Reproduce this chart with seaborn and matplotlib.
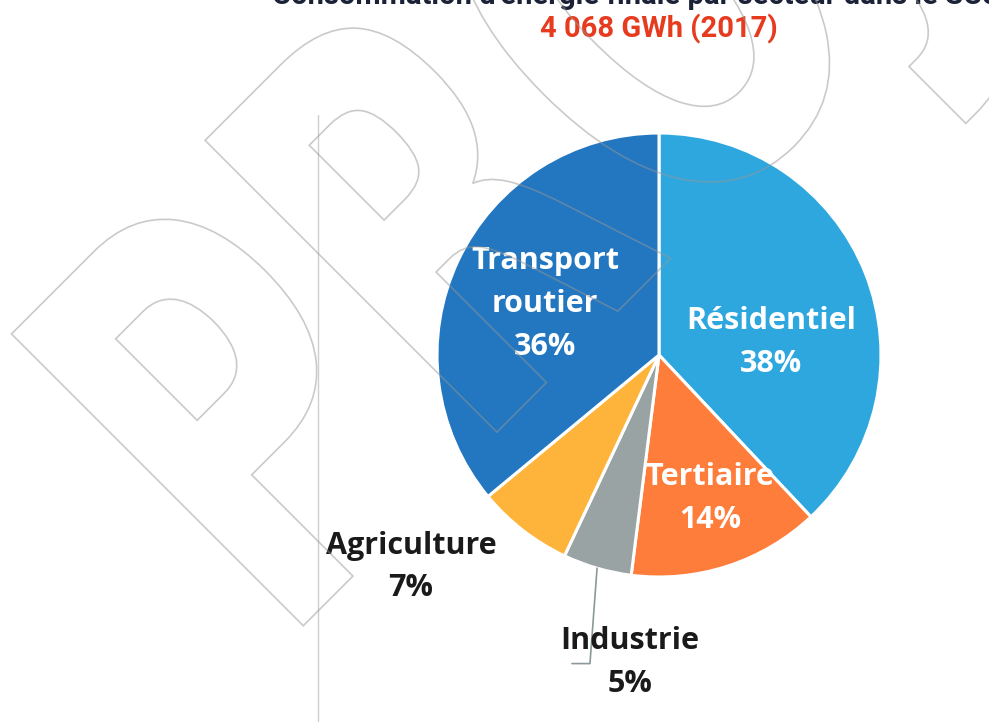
import seaborn as sns
import matplotlib.pyplot as plt
import numpy as np
from matplotlib.textpath import TextPath
from matplotlib.patches import PathPatch
from matplotlib.font_manager import FontProperties
from matplotlib.transforms import Affine2D, IdentityTransform

# data
sectors = ['Résidentiel', 'Tertiaire', 'Industrie', 'Agriculture', 'Transport\nroutier']
shares = [38, 14, 5, 7, 36]
colors = ['#2ea7df', '#fe7d3a', '#99a3a3', '#feb43a', '#2277c0']
subtitle = '4 068 GWh (2017)'
title = "Consommation d'énergie finale par secteur dans le SCoT"

sns.set_theme(style='white')
plt.rcParams['font.family'] = ['Open Sans', 'DejaVu Sans']

W, H = 989, 722
cx, cy, R = 659, 355, 222  # pie centre / radius in pixels

fig = plt.figure(figsize=(W / 100, H / 100), dpi=100)
ax = fig.add_axes([0, 0, 1, 1])
wedges, _ = ax.pie(shares, colors=colors, startangle=90, counterclock=False,
                   wedgeprops=dict(edgecolor='white', linewidth=2.2))
ax.set_xlim(-cx / R, (W - cx) / R)
ax.set_ylim((cy - H) / R, cy / R)
ax.set_aspect('equal')
ax.axis('off')

# labels: (x, y, colour) in pie units
label_pos = [(0.505, 0.055, 'white'), (0.23, -0.645, 'white'), (-0.131, -1.385, '#1a1a1a'),
             (-1.117, -0.955, '#1a1a1a'), (-0.514, 0.23, 'white')]
for name, val, (x, y, c) in zip(sectors, shares, label_pos):
    ax.text(x, y, f'{name}\n{val}%', ha='center', va='center', color=c,
            fontsize=22, fontweight='bold', linespacing=1.55, zorder=5)

# leader line for Industrie
w = wedges[2]
mid = np.deg2rad((w.theta1 + w.theta2) / 2)
x0, y0 = np.cos(mid), np.sin(mid)
ax.plot([x0, x0 - 0.032, x0 - 0.113], [y0, -1.39, -1.39], color='#8a9999', lw=1.2, zorder=4)

# thin vertical rule on the left
ax.plot([(318 - cx) / R] * 2, [(cy - 115) / R, (cy - H) / R], color='#cfcfcf', lw=1)

# titles (pixel coordinates)
fig.text(272, H - 4, title, transform=IdentityTransform(), ha='left', va='baseline',
         fontsize=21, fontweight='bold', color='#1b2238', family=['Roboto', 'DejaVu Sans'])
fig.text(cx, H - 37, subtitle, transform=IdentityTransform(), ha='center', va='baseline',
         fontsize=21, fontweight='bold', color='#e63b1f', family=['Roboto', 'DejaVu Sans'])

# outlined watermark
fp = FontProperties(family='DejaVu Sans', weight='bold')
tp = TextPath((0, 0), 'PROJET', size=566, prop=fp)
verts = tp.vertices
x_left = verts[verts[:, 1] < 5, 0].min()
tr = (Affine2D().translate(-x_left, 0).scale(0.66, 1)
      .rotate_deg(45).translate(279, H - 650))
wm = PathPatch(tr.transform_path(tp), facecolor='none', edgecolor='#969696',
               lw=1.2, alpha=0.5, transform=IdentityTransform(), zorder=6)
fig.patches.append(wm)

fig.savefig('out.png', dpi=100)
